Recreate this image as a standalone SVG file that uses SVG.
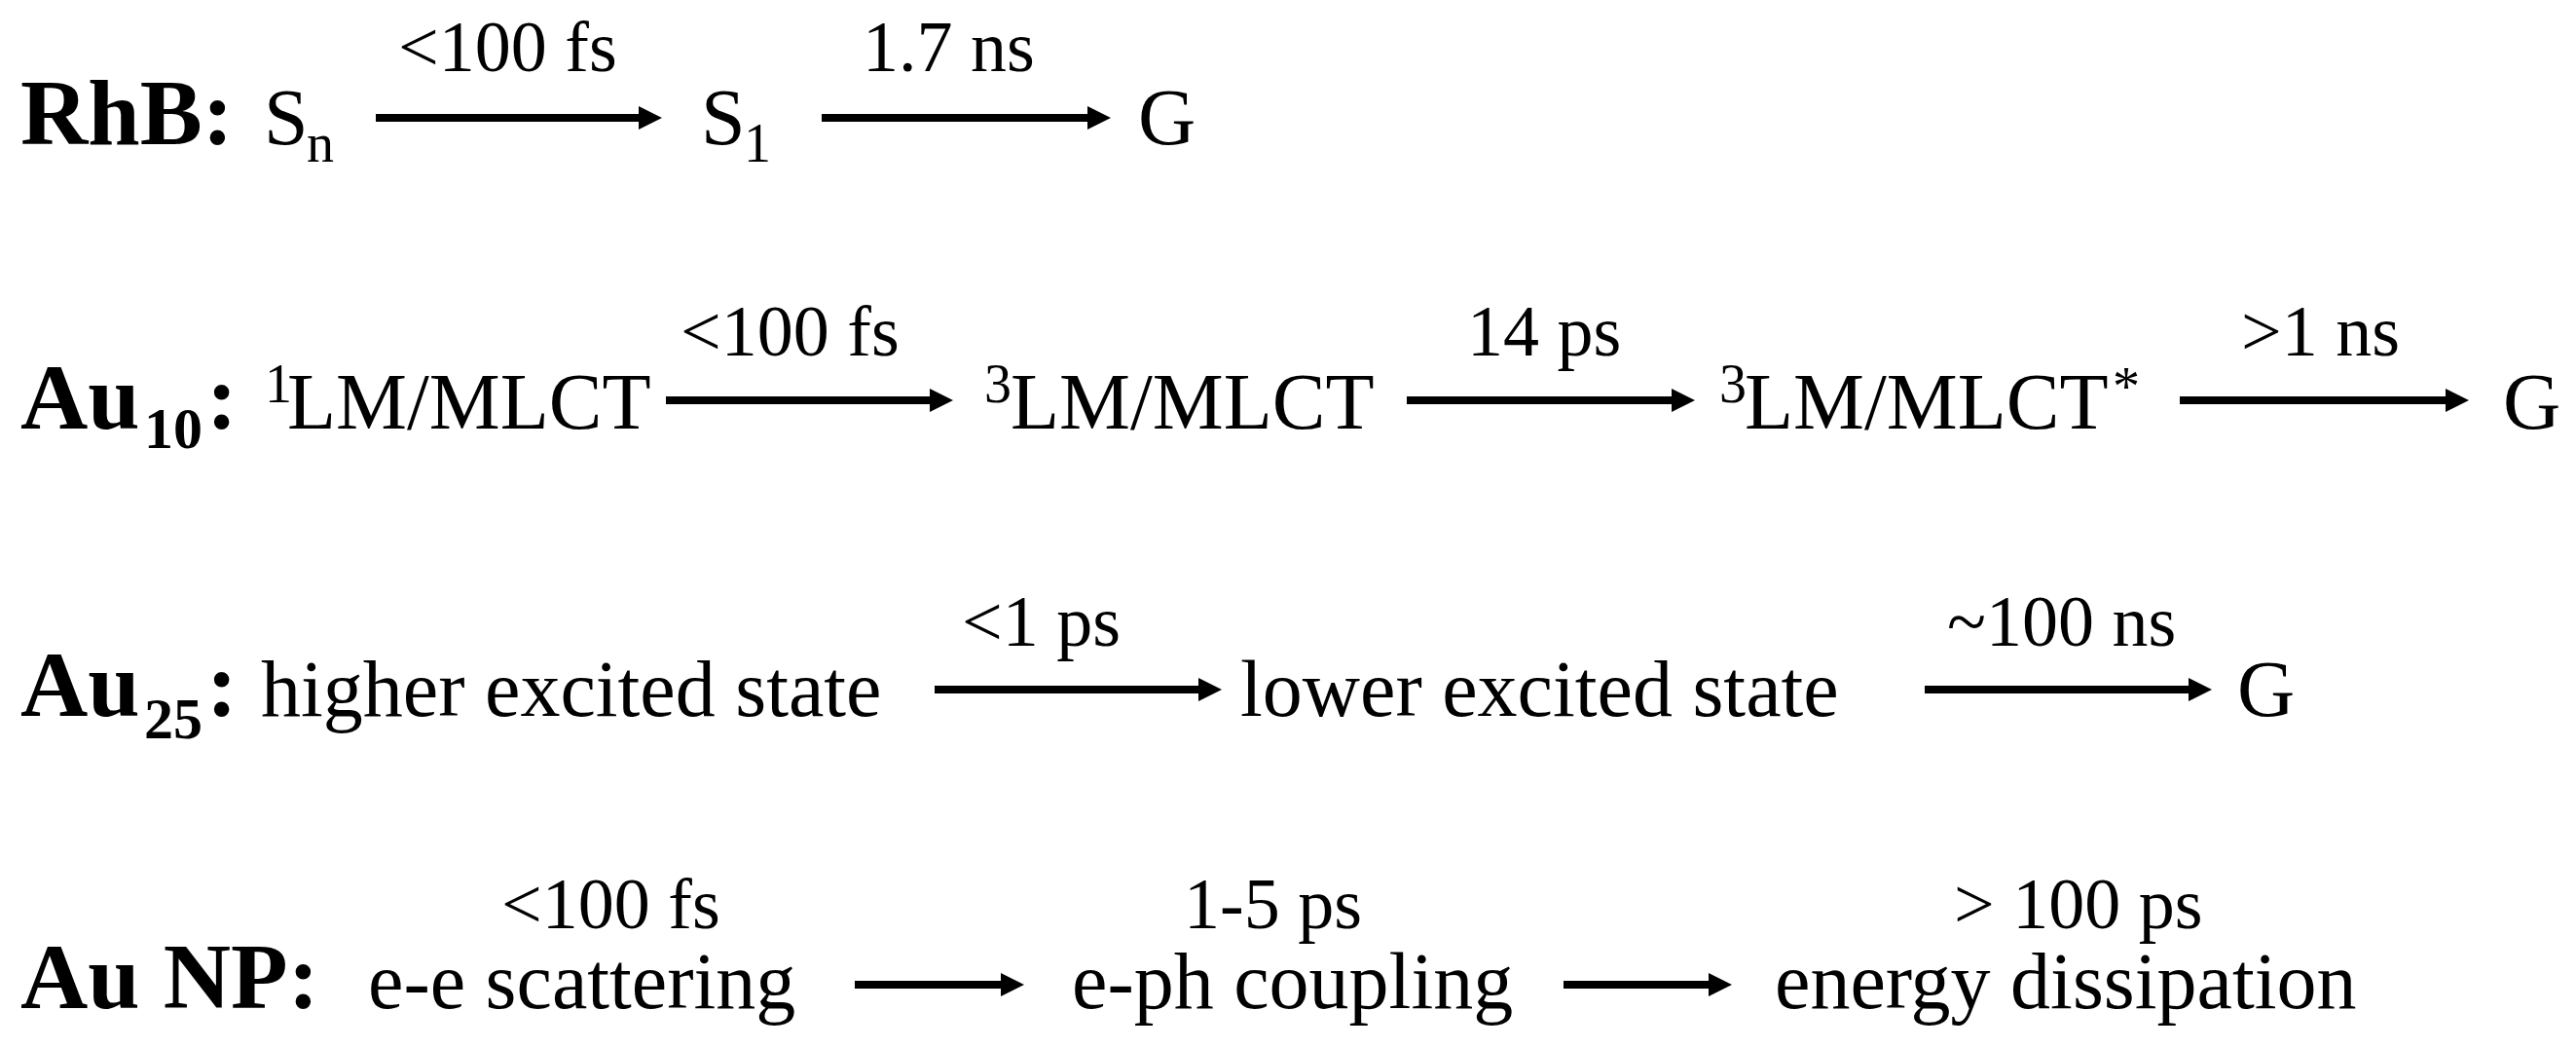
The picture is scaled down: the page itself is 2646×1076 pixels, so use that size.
<svg xmlns="http://www.w3.org/2000/svg" width="2646" height="1076" viewBox="0 0 2646 1076">
<style>
text{font-family:"Liberation Serif","Times New Roman",serif;fill:#000}
.b{font-weight:bold;font-size:96px}
.bs{font-weight:bold;font-size:60px}
.m{font-size:82px}
.l{font-size:74px}
.s{font-size:56px}
.arr{stroke:#000;stroke-width:8;fill:none;marker-end:url(#ah)}
</style>
<defs>
<marker id="ah" markerUnits="userSpaceOnUse" viewBox="0 0 24 24" markerWidth="24" markerHeight="24" refX="4" refY="12" orient="auto">
<path d="M0,0 L24,12 L0,24 Z" fill="#000"/>
</marker>
</defs>
<rect width="2646" height="1076" fill="#fff"/>

<!-- Row 1: RhB -->
<g id="rhb-title"><text class="b" x="21" y="148">RhB:</text></g>
<g id="rhb-sn"><text class="m" x="271" y="148">S</text><text class="s" x="315" y="166">n</text></g>
<g id="rhb-s1"><text class="m" x="720" y="148">S</text><text class="s" x="764" y="166">1</text></g>
<g id="rhb-g"><text class="m" x="1169" y="148">G</text></g>

<!-- Row 2: Au10 -->
<g id="au10-title"><text class="b" x="21" y="440">Au</text><text class="bs" x="148" y="460">10</text><text class="b" x="212" y="440">:</text></g>
<g id="au10-1lm"><text class="s" x="272" y="413">1</text><text class="m" x="295" y="440">LM/MLCT</text></g>
<g id="au10-3lm"><text class="s" x="1011" y="413">3</text><text class="m" x="1038" y="440">LM/MLCT</text></g>
<g id="au10-3lms"><text class="s" x="1766" y="413">3</text><text class="m" x="1792" y="440">LM/MLCT</text><text class="s" x="2170" y="416">*</text></g>
<g id="au10-g"><text class="m" x="2571" y="440">G</text></g>

<!-- Row 3: Au25 -->
<g id="au25-title"><text class="b" x="21" y="735">Au</text><text class="bs" x="148" y="758">25</text><text class="b" x="212" y="735">:</text></g>
<g id="au25-high"><text class="m" x="268" y="735">higher excited state</text></g>
<g id="au25-low"><text class="m" x="1274" y="735">lower excited state</text></g>
<g id="au25-g"><text class="m" x="2298" y="735">G</text></g>

<!-- Row 4: Au NP -->
<g id="aunp-title"><text class="b" x="21" y="1035">Au NP:</text></g>
<g id="aunp-ee"><text class="m" x="378" y="1035">e-e scattering</text></g>
<g id="aunp-eph"><text class="m" x="1101" y="1035">e-ph coupling</text></g>
<g id="aunp-ed"><text class="m" x="1823" y="1035">energy dissipation</text></g>

<g id="connectors">
<line class="arr" x1="386" y1="121" x2="660" y2="121"/>
<line class="arr" x1="844" y1="121" x2="1121" y2="121"/>
<line class="arr" x1="684" y1="411" x2="959" y2="411"/>
<line class="arr" x1="1445" y1="411" x2="1721" y2="411"/>
<line class="arr" x1="2239" y1="411" x2="2516" y2="411"/>
<line class="arr" x1="960" y1="708" x2="1235" y2="708"/>
<line class="arr" x1="1977" y1="708" x2="2252" y2="708"/>
<line class="arr" x1="878" y1="1011" x2="1032" y2="1011"/>
<line class="arr" x1="1606" y1="1011" x2="1759" y2="1011"/>
<text class="l" x="409" y="73">&lt;100 fs</text>
<text class="l" x="886" y="73">1.7 ns</text>
<text class="l" x="699" y="365">&lt;100 fs</text>
<text class="l" x="1507" y="365">14 ps</text>
<text class="l" x="2302" y="365">&gt;1 ns</text>
<text class="l" x="988" y="663">&lt;1 ps</text>
<text class="l" x="2000" y="663">~100 ns</text>
<text class="l" x="515" y="953">&lt;100 fs</text>
<text class="l" x="1216" y="953">1-5 ps</text>
<text class="l" x="2007" y="953">&gt; 100 ps</text>
</g>
</svg>
